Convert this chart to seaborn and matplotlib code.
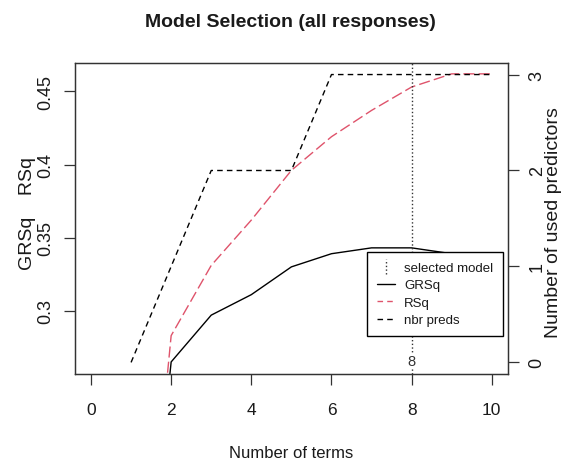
import pandas as pd
import seaborn as sns
import matplotlib.pyplot as plt
from matplotlib.lines import Line2D
from matplotlib.legend_handler import HandlerBase

# values
n_terms = [1, 2, 3, 4, 5, 6, 7, 8, 9, 10]
grsq = [0.0, 0.265, 0.297, 0.311, 0.330, 0.339, 0.343, 0.343, 0.339, 0.333]
rsq = [0.0, 0.283, 0.331, 0.362, 0.396, 0.419, 0.437, 0.453, 0.462, 0.462]
nbr_preds = [0, 1, 2, 2, 2, 3, 3, 3, 3, 3]
selected_terms = 8

x_ticks = [0, 2, 4, 6, 8, 10]
y_ticks = [0.3, 0.35, 0.4, 0.45]
y_tick_labels = ['0.3', '0.35', '0.4', '0.45']
y2_ticks = [0, 1, 2, 3]

PINK = '#DF536B'
TXT = '#1a1a1a'


class VDotHandler(HandlerBase):
    # vertical dotted segment for the "selected model" legend key
    def create_artists(self, legend, orig_handle, xdescent, ydescent,
                       width, height, fontsize, trans):
        xc = width / 2 - xdescent
        line = Line2D([xc, xc], [-ydescent - 0.35 * height, 1.3 * height],
                      color='#333333', ls=':', lw=1)
        line.set_transform(trans)
        return [line]


df = pd.DataFrame({'terms': n_terms, 'GRSq': grsq, 'RSq': rsq, 'nbr_preds': nbr_preds})

sns.set_style('white')
plt.rcParams['font.family'] = ['Liberation Sans', 'DejaVu Sans']

fig = plt.figure(figsize=(5.68, 4.64), dpi=100)
ax = fig.add_axes([0.132, 0.192, 0.762, 0.670])
ax2 = ax.twinx()

sns.lineplot(data=df, x='terms', y='GRSq', ax=ax, color='black', lw=1)
sns.lineplot(data=df, x='terms', y='RSq', ax=ax, color=PINK, lw=1, linestyle=(0, (8, 3)))
sns.lineplot(data=df, x='terms', y='nbr_preds', ax=ax2, color='black', lw=1, linestyle=(0, (4, 3)))

ax.axvline(selected_terms, color='#333333', ls=':', lw=1)
ax.text(selected_terms, 0.043, str(selected_terms), transform=ax.get_xaxis_transform(),
        ha='center', va='center', fontsize=10.5, color='#333333',
        bbox=dict(facecolor='white', edgecolor='none', pad=0.5))

ax.set_xlim(-0.4, 10.4)
ax.set_ylim(0.2568, 0.4694)
ax2.set_ylim(-0.12, 3.12)

ax.set_xticks(x_ticks)
ax.set_xticklabels([str(v) for v in x_ticks], fontsize=12.5)
ax.set_yticks(y_ticks)
ax.set_yticklabels(y_tick_labels, rotation=90, va='center', fontsize=13)
ax2.set_yticks(y2_ticks)
ax2.set_yticklabels([str(v) for v in y2_ticks], rotation=90, va='center', fontsize=13)

ax.set_xlabel('')
ax.set_ylabel('')
ax2.set_ylabel('')

for a in (ax, ax2):
    a.tick_params(axis='both', direction='out', length=8, width=0.9, color='#333333',
                  labelcolor=TXT)
    for s in a.spines.values():
        s.set_color('#333333')
        s.set_linewidth(0.9)
ax.tick_params(axis='x', pad=12, bottom=True)
ax.tick_params(axis='y', pad=7, left=True)
ax2.tick_params(axis='y', pad=7, right=True)

fig.text(0.511, 1 - 27 / 464, 'Model Selection (all responses)', ha='center', va='baseline',
         fontsize=14, fontweight='bold', color=TXT)
fig.text(0.512, 10 / 464, 'Number of terms', ha='center', va='center', fontsize=12, color=TXT)
fig.text(28 / 568, 1 - 213.5 / 464, 'GRSq    RSq', ha='center', va='center', rotation=90,
         fontsize=14, color=TXT)
fig.text(554 / 568, 1 - 223 / 464, 'Number of used predictors', ha='center', va='center',
         rotation=90, fontsize=14, color=TXT)

handles = [
    Line2D([], [], color='#333333', ls=':'),
    Line2D([], [], color='black', lw=1),
    Line2D([], [], color=PINK, lw=1, ls=(0, (4, 3))),
    Line2D([], [], color='black', lw=1, ls=(0, (4, 3))),
]
labels = ['selected model', 'GRSq', 'RSq', 'nbr preds']
leg = ax2.legend(handles, labels, loc='upper left', bbox_to_anchor=(0.675, 0.391),
                 handler_map={handles[0]: VDotHandler()}, frameon=True, fancybox=False,
                 framealpha=1, edgecolor='black', fontsize=9.5,
                 handlelength=1.4, borderpad=0.72, labelspacing=0.39, handletextpad=0.7,
                 borderaxespad=0)
leg.get_frame().set_linewidth(1.0)
for t in leg.get_texts():
    t.set_color(TXT)

fig.savefig('out.png', dpi=100)
